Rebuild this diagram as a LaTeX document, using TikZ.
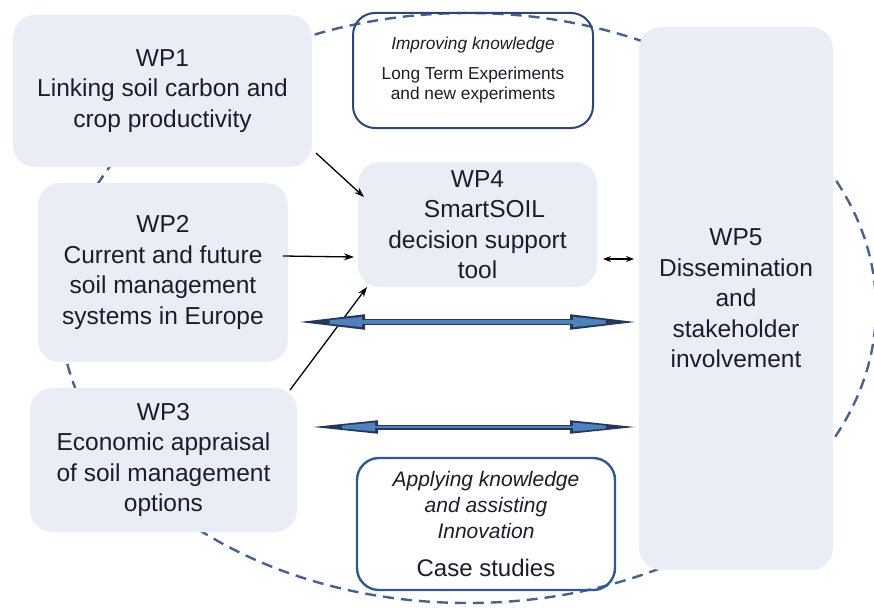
\documentclass[tikz,border=0pt]{standalone}
\usepackage{fontspec}
\setmainfont{Liberation Sans}
\usetikzlibrary{arrows.meta}
\definecolor{boxfill}{RGB}{233,238,246}
\definecolor{txt}{RGB}{28,28,42}
\definecolor{ellc}{RGB}{72,98,140}
\definecolor{impb}{RGB}{45,70,115}
\definecolor{appb}{RGB}{50,88,145}
\definecolor{arrdark}{RGB}{38,56,90}
\definecolor{arrblue}{RGB}{79,129,189}
\begin{document}
\begin{tikzpicture}[x=1pt,y=-1pt,
  wpbox/.style={fill=boxfill, rounded corners=22pt, align=center, inner sep=0pt, text=txt,
    font=\fontsize{24.5}{30.5}\selectfont},
  infobox/.style={draw, line width=2pt, rounded corners=22pt, align=center, inner sep=0pt, text=txt},
  ellline/.style={draw=ellc, line width=2.4pt, dash pattern=on 11pt off 7pt},
  thinarrow/.style={draw=black, line width=1.3pt, -{Stealth[length=10pt,width=7pt]}},
  bigouter/.style={draw=arrdark, line width=#1},
  biginner/.style={draw=arrblue, line width=#1}
]
\useasboundingbox (0,0) rectangle (874,607);

% dashed ellipse
\draw[ellline] (468,308) ellipse [x radius=408, y radius=295];

% boxes
\node[wpbox, minimum width=299pt, minimum height=152pt] (wp1) at (162.5,91)
  {WP1\\Linking soil carbon and\\crop productivity};
\node[wpbox, minimum width=250pt, minimum height=179pt] (wp2) at (163,272.5)
  {WP2\\Current and future\\soil management\\systems in Europe};
\node[wpbox, minimum width=267pt, minimum height=144pt] (wp3) at (163.5,460)
  {WP3\\Economic appraisal\\of soil management\\options};
\node[wpbox, minimum width=239pt, minimum height=125pt] (wp4) at (477.5,224.5)
  {WP4\\\hspace*{14pt}SmartSOIL\\decision support\\tool};
\node[wpbox, minimum width=194pt, minimum height=543pt] (wp5) at (736,298.5)
  {WP5\\Dissemination\\and\\stakeholder\\involvement};

\node[infobox, draw=impb, minimum width=240pt, minimum height=115pt,
  font=\fontsize{17.3}{20.5}\selectfont] (imp) at (473,70.5)
  {\textit{Improving knowledge}\\[9pt]Long Term Experiments\\and new experiments};
\node[infobox, draw=appb, line width=2.4pt, minimum width=258pt, minimum height=132pt,
  font=\fontsize{21}{26}\selectfont\itshape] (app) at (486,524)
  {Applying knowledge\\and assisting\\Innovation\\[12pt]{\upshape\fontsize{24}{26}\selectfont Case studies}};

% connector end points
\coordinate (a1s) at (316,153); \coordinate (a1e) at (364,197);
\coordinate (a2s) at (283,256); \coordinate (a2e) at (354,257);
\coordinate (a3s) at (290,390); \coordinate (a3e) at (367,287);
\coordinate (a4s) at (603,259); \coordinate (a4e) at (634,259);
\coordinate (b1s) at (292,322); \coordinate (b1e) at (643,322);
\coordinate (b2s) at (308,427); \coordinate (b2e) at (640,427);

% thin arrows to WP4
\draw[thinarrow] (a1s) -- (a1e);
\draw[thinarrow] (a2s) -- (a2e);
\draw[thinarrow] (a3s) -- (a3e);
\draw[draw=black, line width=1.3pt, {Stealth[length=8pt,width=6pt]}-{Stealth[length=8pt,width=6pt]}] (a4s) -- (a4e);

% big double arrows
\draw[bigouter=6.5pt, {Triangle[length=73pt,width=13.5pt]}-{Triangle[length=73pt,width=13.5pt]}] (b1s) -- (b1e);
\draw[biginner=3.6pt, shorten <=16pt, shorten >=16pt,
  {Triangle[length=54pt,width=9pt]}-{Triangle[length=54pt,width=9pt]}] (b1s) -- (b1e);
\draw[bigouter=5pt, {Triangle[length=70pt,width=12pt]}-{Triangle[length=70pt,width=12pt]}] (b2s) -- (b2e);
\draw[biginner=2.8pt, shorten <=16pt, shorten >=16pt,
  {Triangle[length=51pt,width=8pt]}-{Triangle[length=51pt,width=8pt]}] (b2s) -- (b2e);
\end{tikzpicture}
\end{document}
